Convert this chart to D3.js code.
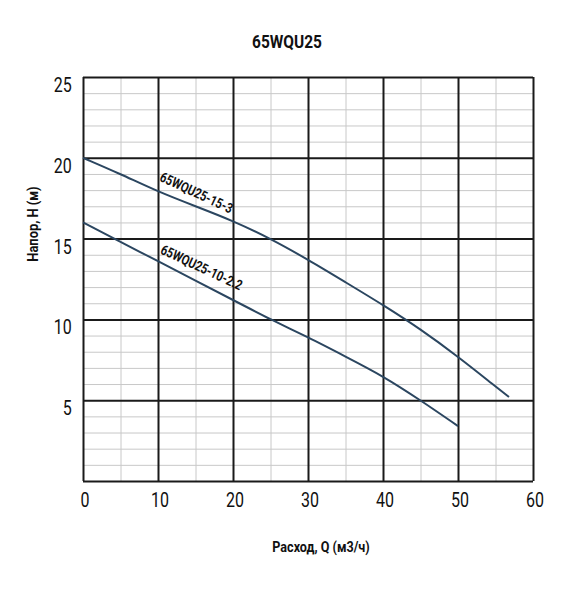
<!DOCTYPE html>
<html>
<head>
<meta charset="utf-8">
<script src="https://cdn.jsdelivr.net/npm/d3@7"></script>
<style>
body { margin: 0; background: #fff; }
text { font-family: "Liberation Sans Narrow", Roboto, sans-serif; fill: #111; }
</style>
</head>
<body>
<div id="chart"></div>
<script>
// pump curves
var q_15_3 = [0, 5, 10, 15, 20, 25, 30, 35, 40, 45, 50, 55, 56.8];
var h_15_3 = [20, 19, 17.9, 17.0, 16.1, 15, 13.7, 12.3, 10.9, 9.4, 7.7, 5.85, 5.2];
var q_10_22 = [0, 5, 10, 15, 20, 25, 30, 35, 40, 45, 50];
var h_10_22 = [16, 14.8, 13.6, 12.4, 11.2, 10, 8.9, 7.7, 6.5, 5.0, 3.4];
var curve_names = ["65WQU25-15-3", "65WQU25-10-2.2"];
var x_ticks = [0, 10, 20, 30, 40, 50, 60];
var y_ticks = [5, 10, 15, 20, 25];

var margin = {top: 77, right: 52, bottom: 119, left: 83},
    width = 585 - margin.left - margin.right,
    height = 600 - margin.top - margin.bottom;

var narrow = "scale(0.8,1)";

var svg = d3.select("#chart")
    .append("svg")
    .attr("width", 585)
    .attr("height", 600)
    .append("g")
    .attr("transform", "translate(" + margin.left + "," + margin.top + ")");

var x = d3.scaleLinear().domain([0, 60]).range([0, width]);
var y = d3.scaleLinear().domain([0, 25]).range([height, 0]);

// minor grid
svg.append("g")
    .call(d3.axisBottom(x).tickValues(d3.range(5, 60, 10)).tickSize(height).tickFormat(""))
    .call(function (g) { g.select(".domain").remove(); })
    .selectAll("line").attr("stroke", "#c8c8c8").attr("stroke-width", 1);
svg.append("g")
    .call(d3.axisLeft(y).tickValues(d3.range(1, 25).filter(function (d) { return d % 5 != 0; }))
        .tickSize(-width).tickFormat(""))
    .call(function (g) { g.select(".domain").remove(); })
    .selectAll("line").attr("stroke", "#c8c8c8").attr("stroke-width", 1);

// major grid
svg.append("g")
    .call(d3.axisBottom(x).tickValues(x_ticks).tickSize(height).tickFormat(""))
    .call(function (g) { g.select(".domain").remove(); })
    .selectAll("line").attr("stroke", "#1a1a1a").attr("stroke-width", 2);
svg.append("g")
    .call(d3.axisLeft(y).tickValues([0].concat(y_ticks)).tickSize(-width).tickFormat(""))
    .call(function (g) { g.select(".domain").remove(); })
    .selectAll("line").attr("stroke", "#1a1a1a").attr("stroke-width", 2);

// tick labels
var x_axis = svg.append("g")
    .attr("transform", "translate(0," + height + ")")
    .call(d3.axisBottom(x).tickValues(x_ticks).tickSize(0).tickPadding(12));
x_axis.select(".domain").remove();
x_axis.selectAll("text").attr("font-size", 20).attr("dx", 2).attr("transform", narrow)
    .style("font-family", "'Liberation Sans Narrow', Roboto, sans-serif");

var y_axis = svg.append("g")
    .call(d3.axisLeft(y).tickValues(y_ticks).tickSize(0).tickPadding(14));
y_axis.select(".domain").remove();
y_axis.selectAll("text").attr("font-size", 20).attr("dy", "0.72em").attr("transform", narrow)
    .style("font-family", "'Liberation Sans Narrow', Roboto, sans-serif");

// curves
var line = d3.line()
    .x(function (d) { return x(d[0]); })
    .y(function (d) { return y(d[1]); })
    .curve(d3.curveBasis);

var series = [d3.zip(q_15_3, h_15_3), d3.zip(q_10_22, h_10_22)];
svg.selectAll(".pump")
    .data(series)
    .enter()
    .append("path")
    .attr("class", "pump")
    .attr("d", line)
    .attr("fill", "none")
    .attr("stroke", "#2b4660")
    .attr("stroke-width", 2);

// curve labels
var label_at = [[10.1, 18.6], [10.2, 14.1]];
svg.selectAll(".pump_label")
    .data(curve_names)
    .enter()
    .append("text")
    .attr("class", "pump_label")
    .attr("transform", function (d, i) {
        return "translate(" + x(label_at[i][0]) + "," + y(label_at[i][1]) + ") rotate(25) " + narrow;
    })
    .attr("font-size", 14)
    .attr("font-weight", "bold")
    .text(function (d) { return d; });

// titles
svg.append("text")
    .attr("transform", "translate(204,-29) scale(0.86,1)")
    .attr("text-anchor", "middle")
    .attr("font-size", 18)
    .attr("font-weight", "bold")
    .text("65WQU25");

svg.append("text")
    .attr("transform", "translate(238," + (height + 71) + ") scale(0.84,1)")
    .attr("text-anchor", "middle")
    .attr("font-size", 15)
    .attr("font-weight", "bold")
    .text("Расход, Q (м3/ч)");

svg.append("text")
    .attr("transform", "translate(-45,147) rotate(-90) scale(0.86,1)")
    .attr("text-anchor", "middle")
    .attr("font-size", 15)
    .attr("font-weight", "bold")
    .text("Напор, H (м)");
</script>
</body>
</html>
